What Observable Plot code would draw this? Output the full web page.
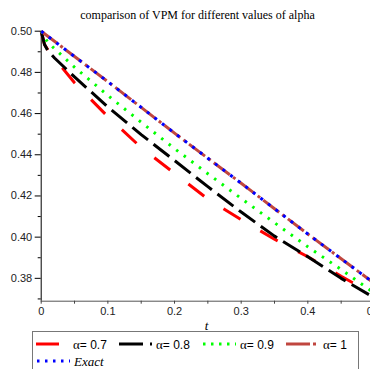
<!DOCTYPE html>
<html><head><meta charset="utf-8">
<script src="https://cdn.jsdelivr.net/npm/d3@7"></script>
<script src="https://cdn.jsdelivr.net/npm/@observablehq/plot@0.6"></script>
<style>
body{margin:0;background:#fff;width:370px;height:369px;overflow:hidden;position:relative}
#title{position:absolute;left:0;top:8px;width:395px;text-align:center;font:12px "Liberation Serif",serif;line-height:14px;color:#000;white-space:nowrap}
#chart{position:absolute;left:0;top:22px}
#legend{position:absolute;left:0;top:331px}
</style></head><body>
<div id="title">comparison of VPM for different values of alpha</div>
<div id="chart"></div>
<div id="legend"></div>
<script>
// ---- data ----
const tExact = [0, 0.05, 0.1, 0.15, 0.2, 0.25, 0.3, 0.35, 0.4, 0.45, 0.5];
const exactVals = [0.5, 0.4877, 0.4755, 0.4630, 0.4505, 0.4383, 0.4262, 0.4138, 0.4015, 0.3895, 0.3775];
const alpha1Vals = [0.5, 0.4877, 0.4755, 0.4630, 0.4505, 0.4383, 0.4262, 0.4138, 0.4015, 0.3895, 0.3775];
const t09 = [0, 0.01, 0.02, 0.05, 0.1, 0.15, 0.2, 0.25, 0.3, 0.35, 0.4, 0.45, 0.5];
const alpha09Vals = [0.5, 0.4945, 0.4915, 0.4825, 0.4688, 0.4558, 0.4430, 0.4308, 0.4188, 0.4070, 0.3953, 0.3843, 0.3728];
const t08 = [0, 0.005, 0.01, 0.02, 0.05, 0.1, 0.15, 0.2, 0.25, 0.3, 0.35, 0.4, 0.45, 0.5];
const alpha08Vals = [0.5, 0.4935, 0.4905, 0.4870, 0.4778, 0.4632, 0.4498, 0.4372, 0.4245, 0.4122, 0.4005, 0.3905, 0.3800, 0.3705];
const t07 = [0, 0.005, 0.01, 0.02, 0.05, 0.1, 0.15, 0.2, 0.25, 0.3, 0.35, 0.4, 0.45, 0.5];
const alpha07Vals = [0.5, 0.4935, 0.4910, 0.4868, 0.4750, 0.4585, 0.4435, 0.4310, 0.4185, 0.4085, 0.3990, 0.3905, 0.3810, 0.3720];

const xTicks = [0, 0.1, 0.2, 0.3, 0.4, 0.5];
const xMinor = [0.05, 0.15, 0.25, 0.35, 0.45];
const yTicks = [0.38, 0.40, 0.42, 0.44, 0.46, 0.48, 0.50];
const yMinor = [0.37, 0.39, 0.41, 0.43, 0.45, 0.47, 0.49];

const seriesAlpha = ["0.7", "0.8", "0.9", "1", null];
const seriesNames = ["α = 0.7", "α = 0.8", "α = 0.9", "α = 1", "Exact"];
const seriesColors = ["#ff0000", "#000000", "#00ff00", "#c0463f", "#0000ff"];
const seriesDash = ["20 23", "20 7", "2.5 7", "20 4 3 4", "3 6.5"];

const seriesData = [
  [t07, alpha07Vals], [t08, alpha08Vals], [t09, alpha09Vals], [tExact, alpha1Vals], [tExact, exactVals]
];

const rows = seriesData.map(([ts, vs], i) => ts.map((t, j) => ({t, v: vs[j], i})));

const yMin = 0.3689;
const marks = [
  Plot.ruleY([yMin], {stroke: "#555", strokeWidth: 1}),
  Plot.ruleX([0], {y1: yMin, y2: 0.5, stroke: "#000", strokeWidth: 1}),
  Plot.axisX({ticks: xTicks, tickSize: 3, tickPadding: 3, tickFormat: d => String(d), label: null, fill: "#222", stroke: "#444"}),
  Plot.axisX({ticks: xMinor, tickSize: 3, tickFormat: () => "", label: null, stroke: "#444"}),
  Plot.axisY({ticks: yTicks, tickSize: 6, tickPadding: 3, tickFormat: d3.format(".2f"), label: null, fill: "#222"}),
  Plot.axisY({ticks: yMinor.filter(d => d > yMin), tickSize: 3, tickFormat: () => "", label: null}),
  Plot.text(["t"], {x: 0.248, y: yMin, dy: 25, text: d => d, fontFamily: "Liberation Serif", fontStyle: "italic", fontSize: 13, fill: "#000"})
];
rows.forEach((r, i) => {
  marks.push(Plot.line(r, {x: "t", y: "v", stroke: seriesColors[i], strokeWidth: 3, strokeDasharray: seriesDash[i], strokeLinecap: "butt"}));
});

const chart = Plot.plot({
  width: 370, height: 310,
  marginLeft: 40.7, marginRight: 0, marginTop: 8.7, marginBottom: 31.3,
  x: {domain: [0, 0.5], range: [40.7, 374]},
  y: {domain: [yMin, 0.5], range: [278.7, 8.7]},
  style: {fontFamily: "Liberation Sans, Arial, sans-serif", fontSize: "11px", background: "white", overflow: "hidden"},
  marks
});
document.getElementById("chart").appendChild(chart);

// ---- legend ----
const lg = d3.select("#legend").append("svg").attr("width", 370).attr("height", 40);
lg.append("rect").attr("x", 32.5).attr("y", 0.5).attr("width", 326).attr("height", 60).attr("fill", "white").attr("stroke", "#777");
const pos = [[36, 13], [119, 13], [203, 13], [286, 13], [37, 30]];
seriesNames.forEach((name, i) => {
  const [x, y] = pos[i];
  lg.append("line").attr("x1", x).attr("x2", x + 33).attr("y1", y).attr("y2", y)
    .attr("stroke", seriesColors[i]).attr("stroke-width", 3)
    .attr("stroke-dasharray", i === 0 ? "23 10" : i === 1 ? "24 7" : i === 3 ? "24 3 3 3" : "2.5 5.5");
  const tx = lg.append("text").attr("x", x + 37).attr("y", y + 4.5).attr("font-size", 13);
  if (seriesAlpha[i] !== null) {
    tx.append("tspan").attr("font-family", "Liberation Serif").text("α");
    tx.append("tspan").attr("font-family", "Liberation Sans").attr("font-size", 12).text("= " + seriesAlpha[i]);
  } else {
    tx.attr("font-family", "Liberation Serif").attr("font-style", "italic").text(name);
  }
});
</script>
</body></html>
